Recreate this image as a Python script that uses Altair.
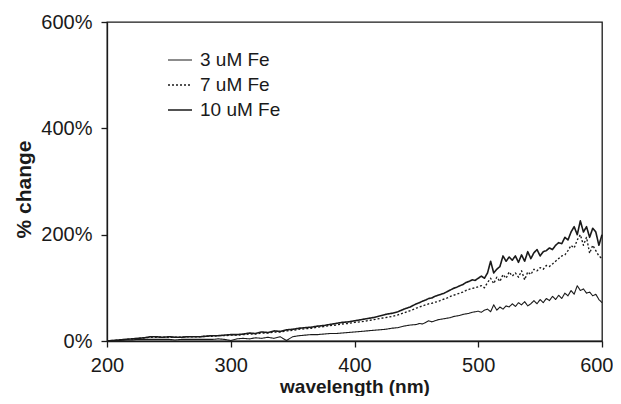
import altair as alt
import pandas as pd

wavelength = [200, 205, 210, 215, 220, 225, 230, 235, 240, 245, 250, 255, 260, 265, 270, 275, 280, 285, 290, 295,
              300, 305, 310, 315, 320, 325, 330, 335, 340, 345, 350, 355, 360, 365, 370, 375, 380, 385, 390, 395,
              400, 405, 410, 415, 420, 425, 430, 435, 440, 445, 450,
              452.5, 455, 457.5, 460, 462.5, 465, 467.5, 470, 472.5, 475, 477.5, 480, 482.5, 485, 487.5, 490,
              492.5, 495, 497.5, 500, 502.5, 505, 507.5, 510, 512.5, 515, 517.5, 520, 522.5, 525, 527.5, 530,
              532.5, 535, 537.5, 540, 542.5, 545, 547.5, 550, 552.5, 555, 557.5, 560, 562.5, 565, 567.5, 570,
              572.5, 575, 577.5, 580, 582.5, 585, 587.5, 590, 592.5, 595, 597.5, 600]

fe3 = [0, 1, 1, 2, 2, 3, 3, 3, 3, 3, 3, 2, 3, 3, 3, 3, 3, 3, 4, 3,
       1, 4, 5, 4, 6, 5, 7, 5, 8, 1, 8, 10, 11, 12, 12, 13, 14, 14, 15, 16,
       17, 18, 19, 20, 21, 22, 24, 25, 28, 30, 31,
       33, 32, 35, 38, 36, 38, 40, 41, 42, 43, 44, 46, 47, 48, 50, 51,
       52, 54, 55, 56, 54, 58, 60, 55, 68, 58, 64, 60, 66, 64, 70, 65,
       72, 68, 74, 66, 70, 76, 70, 78, 72, 80, 76, 84, 78, 86, 80, 90,
       85, 95, 88, 104, 95, 98, 90, 92, 85, 88, 78, 72]

fe7 = [0, 1, 2, 3, 4, 5, 6, 7, 7, 7, 7, 7, 7, 8, 8, 8, 9, 9, 10, 10,
       11, 11, 12, 13, 13, 15, 15, 17, 17, 19, 20, 22, 23, 24, 26, 27, 29, 30, 32, 33,
       35, 36, 38, 40, 42, 44, 46, 49, 53, 57, 62,
       64, 66, 68, 70, 71, 73, 74, 77, 79, 81, 84, 86, 88, 90, 92, 95,
       97, 99, 100, 102, 104, 100, 110, 118, 108, 120, 112, 125, 118, 130, 122, 128,
       120, 132, 115, 130, 125, 135, 132, 138, 135, 142, 140, 145, 150, 155, 160, 162,
       170, 180, 175, 190, 200, 180, 195, 165, 180, 170, 160, 155]

fe10 = [0, 1, 2, 3, 4, 5, 6, 8, 8, 7, 8, 7, 7, 8, 8, 8, 9, 10, 10, 11,
        12, 12, 13, 15, 14, 17, 16, 19, 18, 21, 22, 24, 25, 26, 28, 29, 31, 33, 35, 36,
        38, 40, 42, 44, 47, 50, 52, 55, 60, 64, 70,
        72, 75, 77, 80, 81, 84, 86, 88, 90, 93, 96, 99, 101, 104, 106, 110,
        112, 115, 114, 118, 122, 118, 128, 150, 128, 135, 140, 160, 150, 158, 152, 160,
        148, 162, 150, 168, 155, 166, 172, 160, 168, 170, 175, 172, 180, 185, 183, 195,
        190, 205, 215, 200, 226, 205, 215, 195, 212, 205, 180, 200]

series_names = ["3 uM Fe", "7 uM Fe", "10 uM Fe"]

rows = []
for name, vals in zip(series_names, [fe3, fe7, fe10]):
    for w, v in zip(wavelength, vals):
        rows.append({"wavelength": w, "change": v, "series": name})
df = pd.DataFrame(rows)

FONT = "Liberation Sans"
INK = "#1a1a1a"

legend = alt.Legend(title=None, orient="none", legendX=60, legendY=25)

chart = alt.Chart(df).mark_line(color=INK, strokeJoin="round").encode(
    x=alt.X("wavelength:Q",
            scale=alt.Scale(domain=[200, 600], nice=False, zero=False),
            axis=alt.Axis(values=[200, 300, 400, 500, 600], title="wavelength (nm)",
                          grid=False, tickSize=6, labelPadding=8,
                          labelFlush=False,
                          labelAlign=alt.condition("datum.value == 600", alt.value("right"), alt.value("center")),
                          labelOffset=alt.condition("datum.value == 600", alt.value(11), alt.value(0)),
                          titleFontSize=19,
                          titleBaseline="alphabetic", titleY=51)),
    y=alt.Y("change:Q",
            scale=alt.Scale(domain=[0, 600], nice=False),
            axis=alt.Axis(values=[0, 200, 400, 600], title="% change",
                          grid=False, tickSize=6, labelPadding=9, titlePadding=6,
                          titleY=167,
                          labelExpr="datum.value + '%'")),
    strokeDash=alt.StrokeDash("series:N",
                              scale=alt.Scale(domain=series_names, range=[[1, 0], [2, 2], [1, 0]]),
                              legend=legend),
    strokeWidth=alt.StrokeWidth("series:N",
                                scale=alt.Scale(domain=series_names, range=[1.1, 1.6, 2.4]),
                                legend=legend),
    order=alt.Order("series:N"),
    detail="series:N",
).properties(
    width=495, height=319,
    padding={"left": 99, "top": 14, "right": 11, "bottom": 55},
    autosize="none",
).configure_view(
    stroke=INK, strokeWidth=1.3
).configure_axis(
    domainColor=INK, tickColor=INK, domainWidth=1.3, tickWidth=1.3,
    labelFont=FONT, labelFontSize=20, labelColor=INK,
    titleFont=FONT, titleFontSize=21, titleFontWeight="bold", titleColor=INK,
).configure_legend(
    labelFont=FONT, labelFontSize=19, labelColor=INK,
    symbolType="stroke", symbolSize=576, symbolStrokeColor=INK,
    rowPadding=2, labelOffset=7,
)

chart.save("out.html", embed_options={"renderer": "svg", "actions": False})
